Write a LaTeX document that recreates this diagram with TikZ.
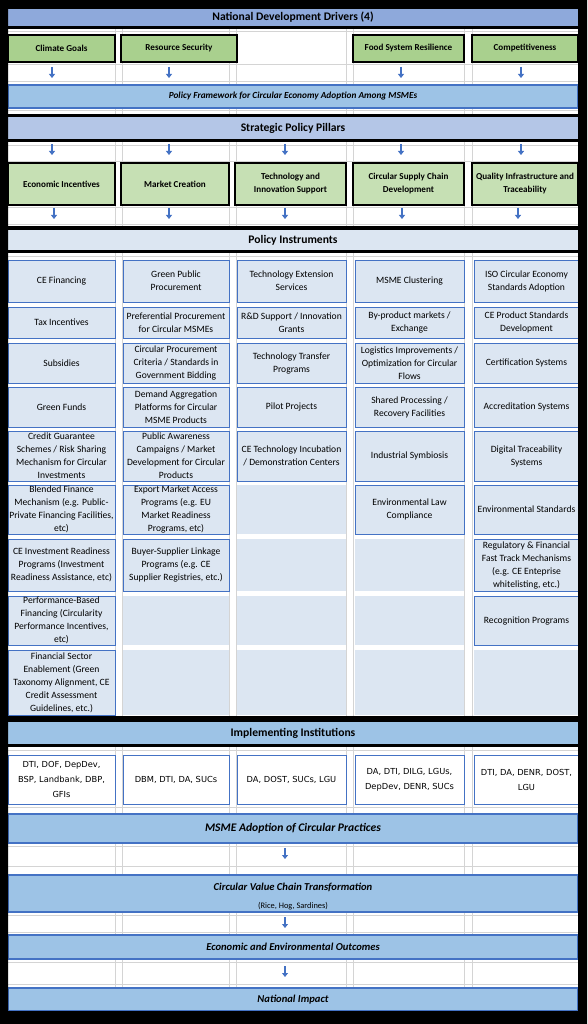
\documentclass[tikz,border=0pt]{standalone}
\usepackage{fontspec}
\setmainfont{Carlito}
\newfontfamily\agencyfont{DejaVu Sans}
\usetikzlibrary{arrows.meta,calc,shapes}
\definecolor{drvblue}{HTML}{8EA9DB}
\definecolor{bandblue}{HTML}{9DC3E6}
\definecolor{pillarblue}{HTML}{B4C6E7}
\definecolor{cellblue}{HTML}{DCE6F2}
\definecolor{edgeblue}{HTML}{4472C4}
\definecolor{drvgreen}{HTML}{A9D08E}
\definecolor{pilgreen}{HTML}{C6E0B4}
\definecolor{gridgray}{HTML}{D4D4D4}
\tikzset{
  headband/.style={inner sep=0pt,minimum width=570pt,font=\fontsize{11.6}{13}\selectfont\bfseries},
  band/.style={fill=bandblue,draw=edgeblue,line width=1.2pt,inner sep=0pt,minimum width=570pt,font=\fontsize{10.6}{12}\selectfont\bfseries\itshape},
  driver/.style={draw=black,line width=2.5pt,fill=drvgreen,inner sep=0pt,align=center,font=\fontsize{9.1}{13}\selectfont\bfseries},
  pillar/.style={driver,fill=pilgreen},
  instr/.style={fill=cellblue,draw=edgeblue,line width=1pt,inner sep=0pt,align=center,font=\fontsize{9.6}{13}\selectfont},
  agency/.style={instr,fill=white,font=\agencyfont\fontsize{8.3}{15}\selectfont},
  arr/.style={draw=edgeblue,line width=1.7pt,-{Triangle[length=4pt,width=6pt]}},
  gridline/.style={draw=gridgray,line width=0.8pt}
}
\begin{document}
\begin{tikzpicture}[x=1pt,y=-1pt]
\useasboundingbox (0,0) rectangle (587,1024);
\fill[white] (0,0) rectangle (587,1024);
\foreach \x in {115.5,122,229.5,236,346.5,353.5,464.5,472.5}
  \draw[gridline] (\x,9) -- (\x,1011);
\foreach \y in {31,64,81,110,145,161,207,224,256,750,807,846,866,915,932,962,984}
  \draw[gridline] (8,\y) -- (578,\y);

\node[headband,fill=drvblue,minimum height=17pt] (drivers) at (293,17.5) {National Development Drivers (4)};
\fill[black] (8,26) rectangle (578,29);
\node[driver,minimum width=107pt,minimum height=27pt] (d1) at (61.5,48.5) {Climate Goals};
\node[driver,minimum width=116pt,minimum height=27pt] (d2) at (179,48.5) {Resource Security};
\node[driver,minimum width=111pt,minimum height=27pt] (d4) at (408.5,48.5) {Food System Resilience};
\node[driver,minimum width=106pt,minimum height=27pt] (d5) at (525,48.5) {Competitiveness};
\node[band,minimum height=23pt,font=\fontsize{9.3}{11}\selectfont\bfseries\itshape] (framework) at (293,96.5) {Policy Framework for Circular Economy Adoption Among MSMEs};

\fill[black] (8,114.5) rectangle (578,117);
\node[headband,fill=pillarblue,minimum height=22pt] (pillars) at (293,128) {Strategic Policy Pillars};
\fill[black] (8,139) rectangle (578,142.5);
\node[pillar,minimum width=107pt,minimum height=42pt] (p1) at (61.5,184) {Economic Incentives};
\node[pillar,minimum width=108pt,minimum height=42pt] (p2) at (175,184) {Market Creation};
\node[pillar,minimum width=111pt,minimum height=42pt] (p3) at (290.5,184) {Technology and\\Innovation Support};
\node[pillar,minimum width=111pt,minimum height=42pt] (p4) at (408.5,184) {Circular Supply Chain\\Development};
\node[pillar,minimum width=106pt,minimum height=42pt] (p5) at (525,184) {Quality Infrastructure and\\Traceability};

\fill[black] (8,226) rectangle (578,230);
\node[headband,fill=cellblue,minimum height=20pt] (instruments) at (293,240) {Policy Instruments};
\fill[black] (8,250) rectangle (578,253);

\fill[cellblue] (237,485) rectangle (346,534);
\fill[cellblue] (237,539) rectangle (346,591);
\fill[cellblue] (237,596) rectangle (346,645);
\fill[cellblue] (237,650) rectangle (346,715);
\fill[cellblue] (355,539) rectangle (464,591);
\fill[cellblue] (355,596) rectangle (464,645);
\fill[cellblue] (355,650) rectangle (464,715);
\fill[cellblue] (123,596) rectangle (229,645);
\fill[cellblue] (123,650) rectangle (229,715);
\fill[cellblue] (474,650) rectangle (578,715);

\node[instr,minimum width=107pt,minimum height=42pt] (a1) at (61.5,281) {CE Financing};
\node[instr,minimum width=107pt,minimum height=31pt] (a2) at (61.5,322.5) {Tax Incentives};
\node[instr,minimum width=107pt,minimum height=40pt] (a3) at (61.5,363) {Subsidies};
\node[instr,minimum width=107pt,minimum height=40pt] (a4) at (61.5,407) {Green Funds};
\node[instr,minimum width=107pt,minimum height=50pt] (a5) at (61.5,456) {Credit Guarantee\\Schemes / Risk Sharing\\Mechanism for Circular\\Investments};
\node[instr,minimum width=107pt,minimum height=49pt] (a6) at (61.5,509.5) {Blended Finance\\Mechanism (e.g. Public-\\Private Financing Facilities,\\etc)};
\node[instr,minimum width=107pt,minimum height=52pt] (a7) at (61.5,565) {CE Investment Readiness\\Programs (Investment\\Readiness Assistance, etc)};
\node[instr,minimum width=107pt,minimum height=49pt] (a8) at (61.5,620.5) {Performance-Based\\Financing (Circularity\\Performance Incentives,\\etc)};
\node[instr,minimum width=107pt,minimum height=65pt] (a9) at (61.5,682.5) {Financial Sector\\Enablement (Green\\Taxonomy Alignment, CE\\Credit Assessment\\Guidelines, etc.)};

\node[instr,minimum width=106pt,minimum height=42pt] (b1) at (176,281) {Green Public\\Procurement};
\node[instr,minimum width=106pt,minimum height=31pt] (b2) at (176,322.5) {Preferential Procurement\\for Circular MSMEs};
\node[instr,minimum width=106pt,minimum height=40pt] (b3) at (176,363) {Circular Procurement\\Criteria / Standards in\\Government Bidding};
\node[instr,minimum width=106pt,minimum height=40pt] (b4) at (176,407) {Demand Aggregation\\Platforms for Circular\\MSME Products};
\node[instr,minimum width=106pt,minimum height=50pt] (b5) at (176,456) {Public Awareness\\Campaigns / Market\\Development for Circular\\Products};
\node[instr,minimum width=106pt,minimum height=49pt] (b6) at (176,509.5) {Export Market Access\\Programs (e.g. EU\\Market Readiness\\Programs, etc)};
\node[instr,minimum width=106pt,minimum height=52pt] (b7) at (176,565) {Buyer-Supplier Linkage\\Programs (e.g. CE\\Supplier Registries, etc.)};

\node[instr,minimum width=109pt,minimum height=42pt] (c1) at (291.5,281) {Technology Extension\\Services};
\node[instr,minimum width=109pt,minimum height=31pt] (c2) at (291.5,322.5) {R\&D Support / Innovation\\Grants};
\node[instr,minimum width=109pt,minimum height=40pt] (c3) at (291.5,363) {Technology Transfer\\Programs};
\node[instr,minimum width=109pt,minimum height=40pt] (c4) at (291.5,407) {Pilot Projects};
\node[instr,minimum width=109pt,minimum height=50pt] (c5) at (291.5,456) {CE Technology Incubation\\/ Demonstration Centers};

\node[instr,minimum width=109pt,minimum height=42pt] (e1) at (409.5,281) {MSME Clustering};
\node[instr,minimum width=109pt,minimum height=31pt] (e2) at (409.5,322.5) {By-product markets /\\Exchange};
\node[instr,minimum width=109pt,minimum height=40pt] (e3) at (409.5,363) {Logistics Improvements /\\Optimization for Circular\\Flows};
\node[instr,minimum width=109pt,minimum height=40pt] (e4) at (409.5,407) {Shared Processing /\\Recovery Facilities};
\node[instr,minimum width=109pt,minimum height=50pt] (e5) at (409.5,456) {Industrial Symbiosis};
\node[instr,minimum width=109pt,minimum height=49pt] (e6) at (409.5,509.5) {Environmental Law\\Compliance};

\node[instr,minimum width=105pt,minimum height=42pt] (f1) at (526.5,281) {ISO Circular Economy\\Standards Adoption};
\node[instr,minimum width=105pt,minimum height=31pt] (f2) at (526.5,322.5) {CE Product Standards\\Development};
\node[instr,minimum width=105pt,minimum height=40pt] (f3) at (526.5,363) {Certification Systems};
\node[instr,minimum width=105pt,minimum height=40pt] (f4) at (526.5,407) {Accreditation Systems};
\node[instr,minimum width=105pt,minimum height=50pt] (f5) at (526.5,456) {Digital Traceability\\Systems};
\node[instr,minimum width=105pt,minimum height=49pt] (f6) at (526.5,509.5) {Environmental Standards};
\node[instr,minimum width=105pt,minimum height=52pt] (f7) at (526.5,565) {Regulatory \& Financial\\Fast Track Mechanisms\\(e.g. CE Enteprise\\whitelisting, etc.)};
\node[instr,minimum width=105pt,minimum height=49pt] (f8) at (526.5,620.5) {Recognition Programs};

\fill[black] (8,716) rectangle (578,722);
\node[headband,fill=bandblue,minimum height=22pt] (institutions) at (293,733) {Implementing Institutions};
\fill[black] (8,744) rectangle (578,747);
\node[agency,minimum width=107pt,minimum height=49pt] (g1) at (61.5,779.5) {DTI, DOF, DepDev,\\BSP, Landbank, DBP,\\GFIs};
\node[agency,minimum width=106pt,minimum height=49pt] (g2) at (176,779.5) {DBM, DTI, DA, SUCs};
\node[agency,minimum width=109pt,minimum height=49pt] (g3) at (291.5,779.5) {DA, DOST, SUCs, LGU};
\node[agency,minimum width=109pt,minimum height=49pt] (g4) at (409.5,779.5) {DA, DTI, DILG, LGUs,\\DepDev, DENR, SUCs};
\node[agency,minimum width=105pt,minimum height=49pt] (g5) at (526.5,779.5) {DTI, DA, DENR, DOST,\\LGU};

\node[band,minimum height=29pt,font=\fontsize{11.6}{13}\selectfont\bfseries\itshape] (adoption) at (293,828.5) {MSME Adoption of Circular Practices};
\node[band,minimum height=37pt] (chain) at (293,893.5) {};
\node[font=\fontsize{10.6}{12}\selectfont\bfseries\itshape,inner sep=0pt] (chaintitle) at (293,887) {Circular Value Chain Transformation};
\node[font=\fontsize{8.4}{9}\selectfont,inner sep=0pt] (chainsub) at (293,906) {(Rice, Hog, Sardines)};
\node[band,minimum height=24pt] (outcomes) at (293,947) {Economic and Environmental Outcomes};
\node[band,minimum height=23pt] (impact) at (293,999.5) {National Impact};

\foreach \x [count=\i] in {52,169,401,521} {
  \coordinate (da\i) at (\x,67);
  \coordinate (db\i) at (\x,78);
  \draw[arr] (da\i) -- (db\i);
}
\foreach \x [count=\i] in {52,169,285,401,521} {
  \coordinate (pa\i) at (\x,144);
  \coordinate (pb\i) at (\x,155);
  \draw[arr] (pa\i) -- (pb\i);
}
\foreach \x [count=\i] in {54,169,285,402,518} {
  \coordinate (qa\i) at (\x,208);
  \coordinate (qb\i) at (\x,219);
  \draw[arr] (qa\i) -- (qb\i);
}
\coordinate (m1) at (285,848);
\coordinate (m2) at (285,859);
\coordinate (m3) at (285,917);
\coordinate (m4) at (285,928);
\coordinate (m5) at (285,966);
\coordinate (m6) at (285,977);
\draw[arr] (m1) -- (m2);
\draw[arr] (m3) -- (m4);
\draw[arr] (m5) -- (m6);

\fill[black,even odd rule] (0,0) rectangle (587,1024) (8,9) rectangle (578,1011);
\end{tikzpicture}
\end{document}
